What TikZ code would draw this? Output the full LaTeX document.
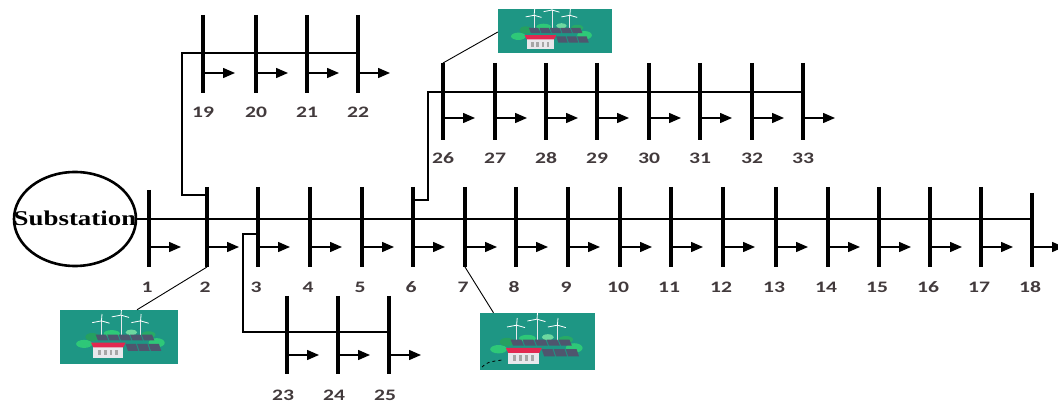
\documentclass[tikz,border=0pt]{standalone}
\usepackage{fontspec}
\setmainfont{Liberation Serif}
\newfontfamily\numfont{Carlito}
\usetikzlibrary{arrows.meta,shapes.geometric}
\definecolor{tealbg}{RGB}{30,150,132}
\definecolor{lblcol}{RGB}{66,58,60}
\definecolor{panelcol}{RGB}{78,86,110}
\definecolor{leafcol}{RGB}{46,200,120}
\definecolor{roofcol}{RGB}{226,40,80}
\definecolor{wallcol}{RGB}{232,232,236}
\tikzset{
  plant/.pic={
    % wind turbines
    \foreach \tx/\th in {-17/-14,0/-19,17/-14}{
      \draw[wallcol, line width=0.9pt] (\tx,2) -- (\tx,\th);
      \draw[white, line width=0.8pt] (\tx,\th) -- ++(-8,1.5) (\tx,\th) -- ++(7,2) (\tx,\th) -- ++(0.5,-6);
    }
    % bushes
    \fill[leafcol] (-32,6) ellipse (7 and 3.5);
    \fill[leafcol!80!black] (-25,0) ellipse (6 and 3.5);
    \fill[leafcol] (31,5) ellipse (7 and 4);
    \fill[leafcol!85!black] (24,-2) ellipse (6 and 3);
    \fill[leafcol] (-8,-3) ellipse (7 and 3);
    \fill[leafcol!70!white] (9,-4) ellipse (5 and 2.5);
    % solar panels
    \foreach \px in {-22,-12,-2,8,18}{
      \fill[panelcol] (\px,-2) -- ++(9,0) -- ++(2,5) -- ++(-9,0) -- cycle;
    }
    \foreach \px in {4,14,24}{
      \fill[panelcol] (\px,6) -- ++(9,0) -- ++(2,6) -- ++(-9,0) -- cycle;
    }
    % building
    \fill[wallcol] (-24,9) rectangle (2,18);
    \fill[roofcol] (-26,5) -- (4,5) -- (2,9) -- (-24,9) -- cycle;
    \foreach \wx in {-20,-15,-10,-5}{
      \fill[gray!70] (\wx,11) rectangle ++(2.5,5);
    }
  },
  feeder/.style={line width=2.3pt},
  busbar/.style={line width=4pt},
  load/.style={line width=1.5pt,-{Triangle[length=12pt,width=10pt]}},
  leader/.style={line width=0.9pt},
  lbl/.style={font=\numfont\bfseries\fontsize{16}{16}\selectfont, text=lblcol, inner sep=0pt},
  plantbox/.style={fill=tealbg, draw=none, inner sep=0pt, rectangle}
}
\begin{document}
\begin{tikzpicture}[x=1pt,y=-1pt]
\fill[white] (0,0) rectangle (1058,403);
\useasboundingbox (0,0) rectangle (1058,403);

% substation
\node[ellipse, draw, line width=2.6pt, minimum width=122pt, minimum height=94pt, inner sep=0pt] (sub) at (75,219) {};
\node[font=\bfseries\fontsize{21}{21}\selectfont, inner sep=0pt] (subtxt) at (75,218) {\scalebox{1.28}[1]{Substation}};

% main feeder buses 1-18
\foreach \n/\x/\top in {1/149/190,2/207/187,3/258/187,4/310/187,5/362/187,6/413/187,7/465/187,8/516/187,9/568/187,10/620/187,11/671/187,12/723/187,13/776/187,14/828/187,15/879/187,16/930/187,17/981/187,18/1032/193}{
  \draw[busbar] (\x,\top) coordinate (t\n) -- (\x,267) coordinate (u\n);
  \draw[load] (\x+2,247) coordinate (a\n) -- ++(30,0) coordinate (e\n);
  \node[lbl] (l\n) at (\x-2,287) {\scalebox{1.35}[1]{\n}};
}

% lateral buses 19-22
\foreach \n/\x in {19/203,20/256,21/307,22/358}{
  \draw[busbar] (\x,15) coordinate (t\n) -- (\x,93) coordinate (u\n);
  \draw[load] (\x+2,73) coordinate (a\n) -- ++(30,0) coordinate (e\n);
  \node[lbl] (l\n) at (\x,112) {\scalebox{1.35}[1]{\n}};
}

% lateral buses 26-33
\foreach \n/\x in {26/443,27/495,28/546,29/597,30/649,31/700,32/752,33/803}{
  \draw[busbar] (\x,63) coordinate (t\n) -- (\x,140) coordinate (u\n);
  \draw[load] (\x+2,118) coordinate (a\n) -- ++(30,0) coordinate (e\n);
  \node[lbl] (l\n) at (\x,158) {\scalebox{1.35}[1]{\n}};
}

% lateral buses 23-25
\foreach \n/\x in {23/287,24/338,25/389}{
  \draw[busbar] (\x,296) coordinate (t\n) -- (\x,374) coordinate (u\n);
  \draw[load] (\x+2,355) coordinate (a\n) -- ++(30,0) coordinate (e\n);
  \node[lbl] (l\n) at (\x-4,395) {\scalebox{1.35}[1]{\n}};
}

% feeder lines
\draw[feeder] (sub.east) -- (t18 |- sub.east);
\coordinate (j2) at (207,195);
\coordinate (c19) at (182,53);
\draw[feeder] (j2) -| (c19) -- (c19 -| t22);
\coordinate (j6) at (413,200);
\coordinate (c26) at (428,92);
\draw[feeder] (j6) -| (c26) -- (c26 -| t33);
\coordinate (j3) at (258,234);
\coordinate (c23) at (243,332);
\draw[feeder] (j3) -| (c23) -- (c23 -| t25);

% distributed generation units
\node[plantbox, minimum width=118pt, minimum height=54pt] (pA) at (119,337) {};
\pic[scale=1.15] at (121,337) {plant};
\node[plantbox, minimum width=115pt, minimum height=57pt] (pB) at (537.5,341.5) {};
\pic[scale=1.2] at (537,342) {plant};
\node[plantbox, minimum width=114pt, minimum height=44pt] (pC) at (555,31) {};
\pic[scale=1.05] at (552,30) {plant};

\draw[leader] (u2) -- ([xshift=18pt]pA.north);
\draw[leader] (u7) -- ([xshift=-44pt]pB.north);
\draw[leader] (t26) -- ([yshift=-1pt]pC.west);
\draw[dashed, line width=0.8pt] (482,367) .. controls (488,362) .. (502,360);
\end{tikzpicture}
\end{document}
